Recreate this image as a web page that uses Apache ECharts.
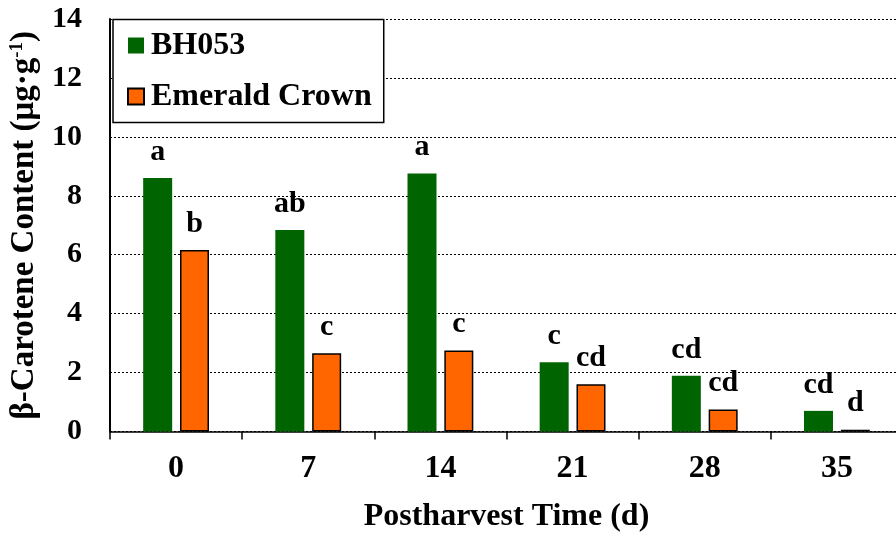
<!DOCTYPE html>
<html>
<head>
<meta charset="utf-8">
<script src="https://cdn.jsdelivr.net/npm/echarts@6/dist/echarts.min.js"></script>
<style>
  html, body { margin: 0; padding: 0; background: #fff; }
  #chart { width: 896px; height: 534px; }
</style>
</head>
<body>
<div id="chart"></div>
<script>
// Postharvest sampling days
const days = ['0', '7', '14', '21', '28', '35'];
// β-carotene content (µg·g⁻¹) per cultivar
const bh053 = [8.60, 6.84, 8.76, 2.35, 1.89, 0.70];
const emeraldCrown = [6.16, 2.66, 2.75, 1.60, 0.75, 0.06];
// Mean-separation letters shown above each bar
const bh053Letters = ['a', 'ab', 'a', 'c', 'cd', 'cd'];
const emeraldLetters = ['b', 'c', 'c', 'cd', 'cd', 'd'];
// Y axis range
const yMin = 0, yMax = 14, yStep = 2;

const FONT = '"Liberation Serif", "Times New Roman", serif';

function letterLabel(letters) {
  return {
    show: true,
    position: 'top',
    distance: 11,
    fontFamily: FONT,
    fontWeight: 'bold',
    fontSize: 30,
    color: '#000',
    formatter: p => letters[p.dataIndex]
  };
}

const chart = echarts.init(document.getElementById('chart'), null, { renderer: 'canvas' });

chart.setOption({
  animation: false,
  backgroundColor: '#fff',
  grid: { left: 110, right: -7, top: 19, bottom: 102.5, containLabel: false, outerBoundsMode: 'none' },
  legend: {
    left: 113,
    top: 19.5,
    orient: 'vertical',
    backgroundColor: '#fff',
    borderColor: '#000',
    borderWidth: 1.5,
    borderRadius: 0,
    padding: [10, 12, 10, 14],
    itemWidth: 16,
    itemHeight: 16,
    itemGap: 19,
    icon: 'rect',
    textStyle: { fontFamily: FONT, fontWeight: 'bold', fontSize: 32, color: '#000', padding: [0, 0, 0, 2] },
    data: ['BH053', 'Emerald Crown']
  },
  xAxis: {
    type: 'category',
    data: days,
    boundaryGap: true,
    name: 'Postharvest Time (d)',
    nameLocation: 'middle',
    nameGap: 69,
    nameTextStyle: { fontFamily: FONT, fontWeight: 'bold', fontSize: 32, color: '#000' },
    axisLine: { lineStyle: { color: '#000', width: 1.5 } },
    axisTick: { show: true, length: 8, lineStyle: { color: '#000', width: 1.5 } },
    axisLabel: { fontFamily: FONT, fontWeight: 'bold', fontSize: 32, color: '#000', margin: 21 },
    splitLine: { show: false }
  },
  yAxis: {
    type: 'value',
    min: yMin,
    max: yMax,
    interval: yStep,
    name: 'β-Carotene Content (μg·g{sup|-1})',
    nameLocation: 'middle',
    nameGap: 66,
    nameRotate: 90,
    nameTextStyle: {
      fontFamily: FONT, fontWeight: 'bold', fontSize: 33, color: '#000',
      rich: {
        sup: { fontFamily: FONT, fontWeight: 'bold', fontSize: 19, color: '#000', verticalAlign: 'top', padding: [0, 0, 15, 0] }
      }
    },
    axisLine: { show: true, lineStyle: { color: '#000', width: 2 } },
    axisTick: { show: false },
    axisLabel: { fontFamily: FONT, fontWeight: 'bold', fontSize: 30, color: '#000', margin: 28 },
    splitLine: { show: true, lineStyle: { color: '#000', width: 1, type: [2, 2] } }
  },
  series: [
    {
      name: 'BH053',
      type: 'bar',
      data: bh053,
      barWidth: 29,
      barGap: '27%',
      itemStyle: { color: '#006400' },
      label: letterLabel(bh053Letters)
    },
    {
      name: 'Emerald Crown',
      type: 'bar',
      data: emeraldCrown,
      barWidth: 29,
      itemStyle: { color: '#FF6600', borderColor: '#000', borderWidth: 1.5 },
      label: letterLabel(emeraldLetters)
    }
  ]
});
</script>
</body>
</html>
